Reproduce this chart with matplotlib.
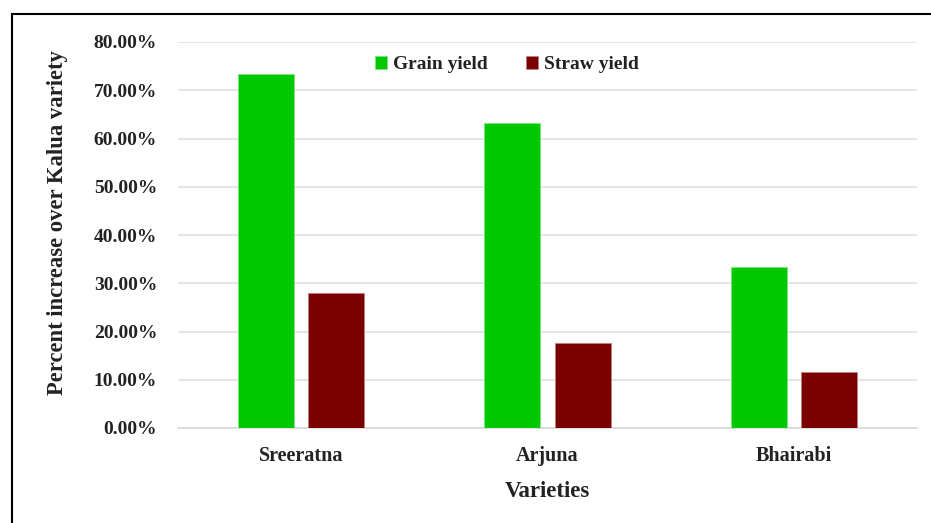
import matplotlib
matplotlib.use("Agg")
import matplotlib.pyplot as plt
import numpy as np
from matplotlib.ticker import PercentFormatter
from matplotlib.lines import Line2D

varieties = ["Sreeratna", "Arjuna", "Bhairabi"]
grain_yield = [0.733, 0.633, 0.334]
straw_yield = [0.280, 0.176, 0.116]
series_names = ["Grain yield", "Straw yield"]
yticks = [0.0, 0.1, 0.2, 0.3, 0.4, 0.5, 0.6, 0.7, 0.8]

plt.rcParams['font.family'] = ['Liberation Serif', 'DejaVu Serif']
plt.rcParams['font.weight'] = 'bold'

W, H = 931, 523
fig = plt.figure(figsize=(W / 100, H / 100), dpi=100)
ax = fig.add_axes([178 / W, 1 - 428 / H, (917 - 178) / W, (428 - 42) / H])

x = np.arange(len(varieties))
bw = 0.227
off = 0.143
green = "#00c800"
maroon = "#7b0000"
ax.bar(x - off, grain_yield, bw, color=green, edgecolor="#7de87d", linewidth=0.6, label=series_names[0], zorder=3)
ax.bar(x + off, straw_yield, bw, color=maroon, edgecolor="#c08080", linewidth=0.6, label=series_names[1], zorder=3)

ax.set_xlim(-0.5, len(varieties) - 0.5)
ax.set_ylim(0, 0.8)
ax.set_yticks(yticks)
ax.yaxis.set_major_formatter(PercentFormatter(1.0, decimals=2))
ax.set_xticks(x)
ax.set_xticklabels(varieties)
ax.grid(axis='y', color="#e0e0e0", linewidth=1.2, zorder=0)
ax.set_axisbelow(True)
for s in ["top", "right", "left"]:
    ax.spines[s].set_visible(False)
ax.spines["bottom"].set_color("#d9d9d9")
ax.spines["bottom"].set_linewidth(1.2)
ax.tick_params(axis='y', length=0, labelsize=14, colors="#222222", pad=15)
ax.tick_params(axis='x', length=0, labelsize=14.5, colors="#222222", pad=13)
for lbl in ax.get_xticklabels() + ax.get_yticklabels():
    lbl.set_fontweight('bold')

ax.set_xlabel("Varieties", fontsize=16.5, fontweight='bold', labelpad=11, color="#222222")
ax.set_ylabel("Percent increase over Kalua variety", fontsize=16.3, fontweight='bold', color="#222222")
ax.yaxis.set_label_coords(-0.149, 0.532)

leg = ax.legend(loc="upper center", bbox_to_anchor=(0.445, 1.008), ncol=2, frameon=False,
                handlelength=0.6, handleheight=0.6, columnspacing=2.0,
                handletextpad=0.3, prop={'weight': 'bold', 'size': 14})
for t in leg.get_texts():
    t.set_color("#222222")

# figure border lines (top and left)
fig.add_artist(Line2D([12 / W, 1.0], [1 - 14 / H, 1 - 14 / H], color="black", linewidth=1.5, transform=fig.transFigure))
fig.add_artist(Line2D([12 / W, 12 / W], [0, 1 - 14 / H], color="black", linewidth=1.5, transform=fig.transFigure))

fig.savefig("out.png", dpi=100)
